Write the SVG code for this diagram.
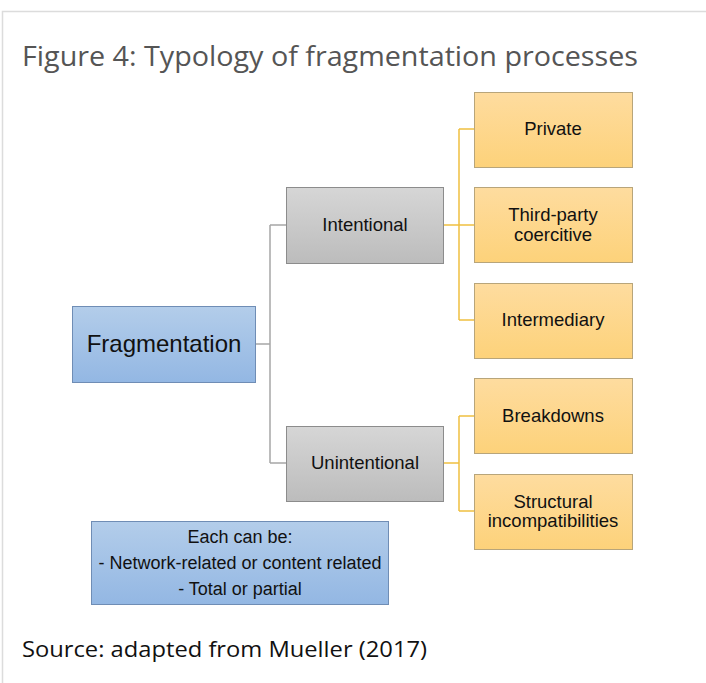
<svg xmlns="http://www.w3.org/2000/svg" width="706" height="683" viewBox="0 0 706 683">
<defs>
<linearGradient id="gBlue" x1="0" y1="0" x2="0" y2="1"><stop offset="0" stop-color="#b3cdea"/><stop offset="1" stop-color="#93b7e3"/></linearGradient>
<linearGradient id="gGray" x1="0" y1="0" x2="0" y2="1"><stop offset="0" stop-color="#d6d6d6"/><stop offset="1" stop-color="#bcbcbc"/></linearGradient>
<linearGradient id="gOrange" x1="0" y1="0" x2="0" y2="1"><stop offset="0" stop-color="#fedc9f"/><stop offset="1" stop-color="#fdd27a"/></linearGradient>
</defs>
<style>
.blue{fill:url(#gBlue);stroke:#6f8db5;stroke-width:1}
.gray{fill:url(#gGray);stroke:#8c8c8c;stroke-width:1}
.orange{fill:url(#gOrange);stroke:#b8a57a;stroke-width:1}
.t{font-family:"Liberation Sans",Arial,sans-serif;font-size:18.5px;fill:#111;text-anchor:middle}
.big{font-size:24px}
.n{font-size:18px}
.gc{stroke:#a6a6a6;stroke-width:1.5;fill:none}
.oc{stroke:#f0c040;stroke-width:1.5;fill:none}
</style>
<rect x="0" y="0" width="706" height="683" fill="#fff"/>
<path d="M2.5 683 V11.5 H706" fill="none" stroke="#dcdcdc" stroke-width="1.5"/>
<text x="22" y="66" font-family="Open Sans,sans-serif" font-size="28" fill="#555" textLength="616" lengthAdjust="spacingAndGlyphs">Figure 4: Typology of fragmentation processes</text>
<g id="connectors">
<path class="gc" d="M255 344 H270 M270 225 V463 M270 225 H286 M270 463 H286"/>
<path class="oc" d="M443 225 H474 M459 129 V320 M459 129 H474 M459 320 H474"/>
<path class="oc" d="M443 463 H459 M459 416 V511 M459 416 H474 M459 511 H474"/>
</g>
<g id="fragmentation"><rect class="blue" x="72.5" y="306.5" width="183" height="76"/><text class="t big" x="164" y="352">Fragmentation</text></g>
<g id="intentional"><rect class="gray" x="286.5" y="187.5" width="157" height="76"/><text class="t" x="365" y="231">Intentional</text></g>
<g id="unintentional"><rect class="gray" x="286.5" y="426.5" width="157" height="75"/><text class="t" x="365" y="469">Unintentional</text></g>
<g id="private"><rect class="orange" x="474.5" y="92.5" width="158" height="75"/><text class="t" x="553" y="135">Private</text></g>
<g id="thirdparty"><rect class="orange" x="474.5" y="187.5" width="158" height="75"/><text class="t" x="553" y="221">Third-party</text><text class="t" x="553" y="241">coercitive</text></g>
<g id="intermediary"><rect class="orange" x="474.5" y="283.5" width="158" height="75"/><text class="t" x="553" y="326">Intermediary</text></g>
<g id="breakdowns"><rect class="orange" x="474.5" y="378.5" width="158" height="75"/><text class="t" x="553" y="422">Breakdowns</text></g>
<g id="structural"><rect class="orange" x="474.5" y="474.5" width="158" height="75"/><text class="t" x="553" y="508">Structural</text><text class="t" x="553" y="527">incompatibilities</text></g>
<g id="note"><rect class="blue" x="91.5" y="521.5" width="297" height="83"/>
<text class="t n" x="240" y="543">Each can be:</text>
<text class="t n" x="240" y="569">- Network-related or content related</text>
<text class="t n" x="240" y="595">- Total or partial</text></g>
<text x="22" y="657" font-family="Open Sans,sans-serif" font-size="22" fill="#111" textLength="405" lengthAdjust="spacingAndGlyphs">Source: adapted from Mueller (2017)</text>
</svg>
